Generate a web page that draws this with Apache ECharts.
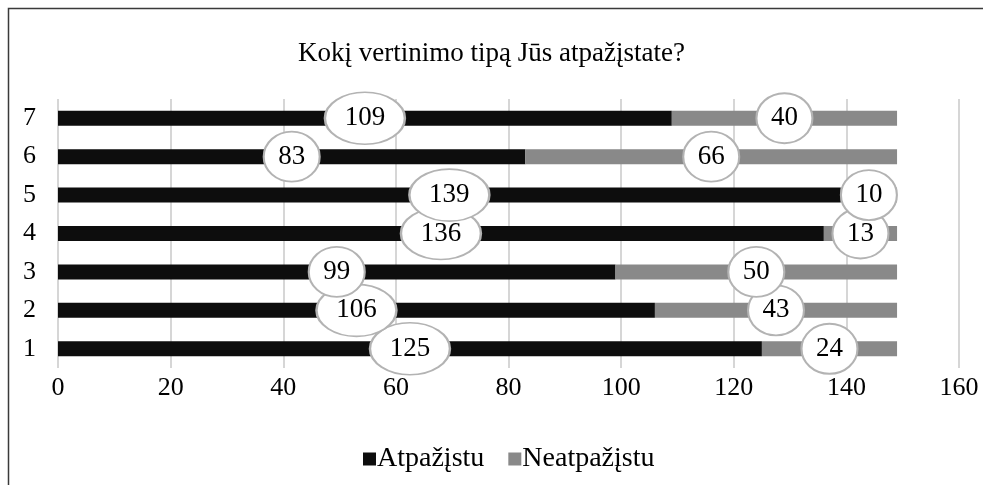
<!DOCTYPE html>
<html>
<head>
<meta charset="utf-8">
<script src="https://cdn.jsdelivr.net/npm/echarts@6/dist/echarts.min.js"></script>
<style>
  html, body { margin: 0; padding: 0; background: #fff; }
  #main { width: 983px; height: 485px; }
</style>
</head>
<body>
<div id="main"></div>
<script>
var categories = ['1', '2', '3', '4', '5', '6', '7'];
var atpazistu = [125, 106, 99, 136, 139, 83, 109];
var neatpazistu = [24, 43, 50, 13, 10, 66, 40];
var xTicks = { min: 0, max: 160, step: 20 };

var myChart = echarts.init(document.getElementById('main'));
var font = '"Liberation Serif", "DejaVu Serif", serif';

// label ellipses centred on each segment, higher rows drawn last
var labelPoints = [];
for (var i = 0; i < categories.length; i++) {
    labelPoints.push([atpazistu[i] / 2, categories[i], atpazistu[i]]);
    labelPoints.push([atpazistu[i] + neatpazistu[i] / 2, categories[i], neatpazistu[i]]);
}

var option = {
    backgroundColor: '#fff',
    animation: false,
    textStyle: { fontFamily: font },
    title: {
        text: 'Kokį vertinimo tipą Jūs atpažįstate?',
        left: 'center',
        top: 35,
        textStyle: { fontFamily: font, fontSize: 27, fontWeight: 'normal', color: '#000' }
    },
    legend: {
        data: ['Atpažįstu', 'Neatpažįstu'],
        top: 440,
        left: 358,
        icon: 'rect',
        itemWidth: 13,
        itemHeight: 13,
        itemGap: 24,
        textStyle: { fontFamily: font, fontSize: 28, color: '#000', padding: [0, 0, 0, -4] }
    },
    grid: {
        left: 58,
        right: 24,
        top: 99,
        bottom: 117
    },
    xAxis: {
        type: 'value',
        min: xTicks.min,
        max: xTicks.max,
        interval: xTicks.step,
        axisLine: { show: false },
        axisTick: { show: false },
        splitLine: { lineStyle: { color: '#d6d6d6', width: 2 } },
        axisLabel: { fontFamily: font, fontSize: 26, color: '#000', margin: 7 }
    },
    yAxis: {
        type: 'category',
        data: categories,
        axisLine: { show: false },
        axisTick: { show: false },
        axisLabel: { fontFamily: font, fontSize: 26, color: '#000', margin: 22 }
    },
    series: [
        {
            name: 'Atpažįstu',
            type: 'bar',
            stack: 'total',
            barWidth: 15,
            itemStyle: { color: '#0d0d0d' },
            silent: true,
            data: atpazistu
        },
        {
            name: 'Neatpažįstu',
            type: 'bar',
            stack: 'total',
            barWidth: 15,
            itemStyle: { color: '#898989' },
            silent: true,
            data: neatpazistu
        },
        {
            name: 'labels',
            type: 'scatter',
            silent: true,
            z: 5,
            symbol: 'circle',
            symbolSize: function (val) {
                return val[2] >= 100 ? [80, 52] : [56, 50];
            },
            itemStyle: { color: '#fff', borderColor: '#b3b3b3', borderWidth: 2, opacity: 1 },
            label: {
                show: true,
                position: 'inside',
                formatter: function (p) { return p.value[2]; },
                fontFamily: font,
                fontSize: 27,
                color: '#000'
            },
            data: labelPoints
        }
    ],
    graphic: [
        {
            type: 'rect',
            shape: { x: 8.5, y: 8.5, width: 1000, height: 600 },
            style: { fill: 'none', stroke: '#3a3a3a', lineWidth: 1.5 },
            silent: true
        }
    ]
};

myChart.setOption(option);
</script>
</body>
</html>
